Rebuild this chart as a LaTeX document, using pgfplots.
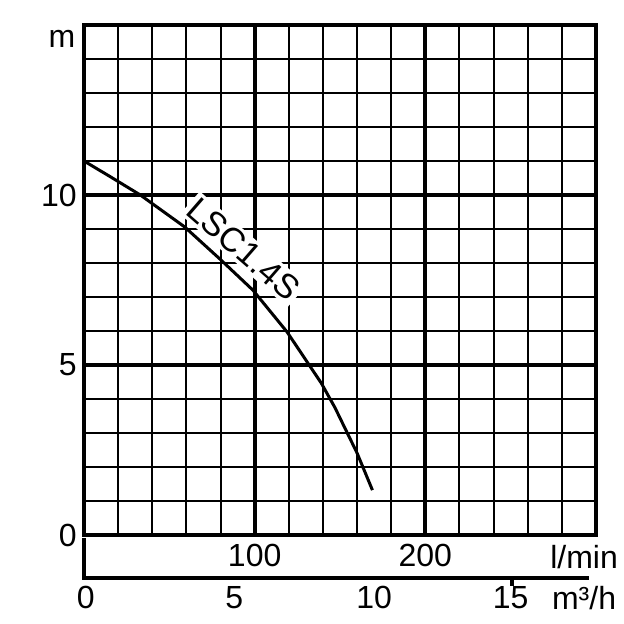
\documentclass[border=0pt]{standalone}
\usepackage{fontspec}
\setmainfont{Liberation Sans}
\usepackage{pgfplots}
\pgfplotsset{compat=1.18}
\begin{document}
\begin{tikzpicture}
\begin{axis}[
  scale only axis, width=256pt, height=255pt,
  xmin=0, xmax=300, ymin=0, ymax=15,
  xtick={0,100,200,300}, minor xtick={20,40,...,280},
  ytick={0,5,10,15}, minor ytick={1,2,...,14},
  xticklabels={}, yticklabels={0,5,10,{}},
  grid=both,
  major grid style={line width=2pt, black},
  minor grid style={line width=1pt, black},
  axis line style={line width=2pt},
  major tick length=0pt, minor tick length=0pt,
  clip=false,
  ticklabel style={font=\fontsize{16}{19}\selectfont},
  yticklabel style={inner sep=3.5pt},
  /pgf/number format/assume math mode=true,
]
\node[fill=white, inner sep=1.5pt, rotate=-41, font=\fontsize{17}{20}\selectfont] at (axis cs:93.5,8.4) {LSC1.4S};
\addplot[line width=1.5pt, black, line join=round] coordinates {
  (0,11.0) (15,10.55) (33,10.0) (59,9.06) (80,8.1) (99,7.2) (119,5.97) (139,4.47) (147,3.75) (160,2.41) (169,1.32)
};
\draw[line width=2pt, line join=miter] (axis cs:0,-0.1) -- (axis cs:0,-1.26) -- (axis cs:296,-1.26);
\draw[line width=2pt] (axis cs:251,-1.26) -- ++(0,-4pt);
\node[font=\fontsize{16}{19}\selectfont] at (axis cs:100,-0.6) {100};
\node[font=\fontsize{16}{19}\selectfont] at (axis cs:200,-0.6) {200};
\node[font=\fontsize{16}{19}\selectfont] at (axis cs:293,-0.66) {l/min};
\node[font=\fontsize{16}{19}\selectfont] at (axis cs:1,-1.85) {0};
\node[font=\fontsize{16}{19}\selectfont] at (axis cs:88,-1.85) {5};
\node[font=\fontsize{16}{19}\selectfont] at (axis cs:170,-1.85) {10};
\node[font=\fontsize{16}{19}\selectfont] at (axis cs:250,-1.85) {15};
\node[font=\fontsize{16}{19}\selectfont] at (axis cs:293,-1.85) {m³/h};
\node[font=\fontsize{16}{19}\selectfont] at (axis cs:-12.9,14.6) {m};
\end{axis}
\pgfresetboundingbox
\path[use as bounding box] (current axis.south west) ++(-42pt,-44.5pt) rectangle ++(312pt,312pt);
\end{tikzpicture}
\end{document}
